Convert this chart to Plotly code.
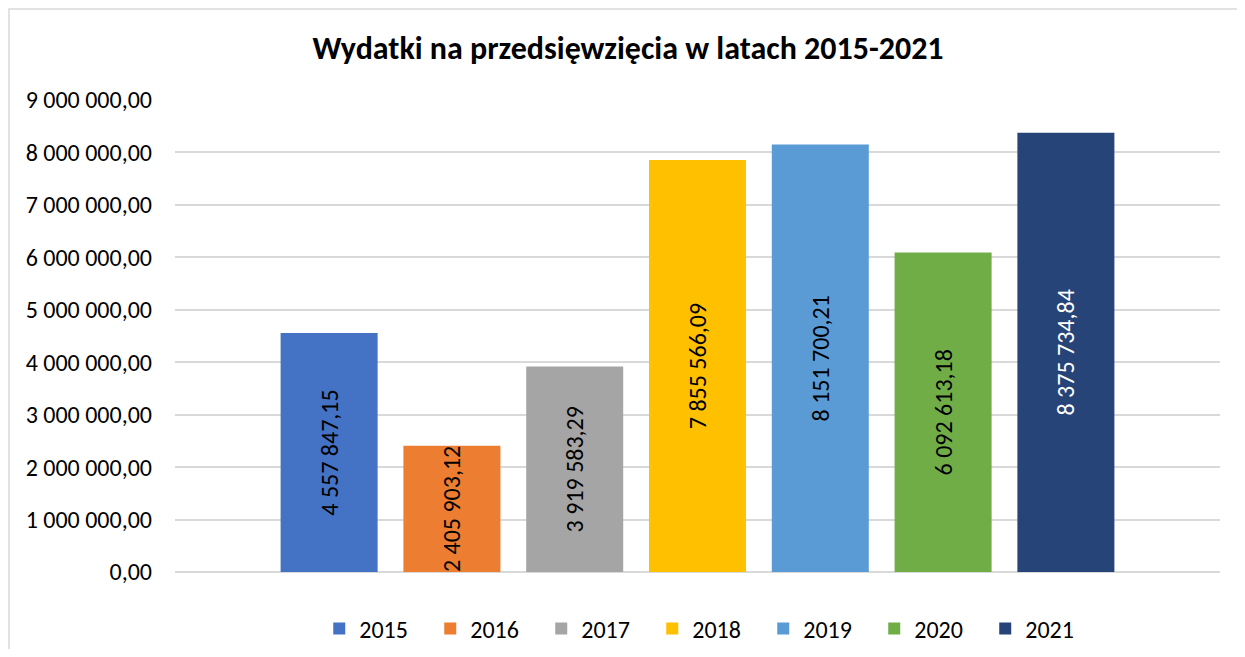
import plotly.graph_objects as go

years = ["2015", "2016", "2017", "2018", "2019", "2020", "2021"]
values = [4557847.15, 2405903.12, 3919583.29, 7855566.09, 8151700.21, 6092613.18, 8375734.84]
colors = ["#4472C4", "#ED7D31", "#A5A5A5", "#FFC000", "#5B9BD5", "#70AD47", "#264478"]
label_colors = ["black", "black", "black", "black", "black", "black", "white"]
tick_vals = [0, 1000000, 2000000, 3000000, 4000000, 5000000, 6000000, 7000000, 8000000, 9000000]

FONT = "Carlito, Calibri, Lato, 'Open Sans', sans-serif"

fig = go.Figure()
for yr, v, c, lc in zip(years, values, colors, label_colors):
    fig.add_trace(go.Bar(
        x=[yr], y=[v], name=yr, marker=dict(color=c, line=dict(width=0)),
        texttemplate="%{y:,.2f}", textposition="inside", insidetextanchor="middle",
        textangle=-90, textfont=dict(family=FONT, size=24, color=lc),
        constraintext="none", cliponaxis=False,
    ))

W, H = 1229, 641
fig.update_layout(
    width=W, height=H,
    margin=dict(l=167, r=17, t=92, b=77, autoexpand=False),
    paper_bgcolor="white", plot_bgcolor="white",
    separators=", ",
    barmode="overlay", bargap=0.21,
    uniformtext=dict(minsize=24, mode="show"),
    font=dict(family=FONT, size=24, color="black"),
    title=dict(text="<b>Wydatki na przedsięwzięcia w latach 2015-2021</b>",
               x=620 / W, xanchor="center", y=1 - 40 / H, yanchor="middle",
               font=dict(family=FONT, size=32, color="black")),
    xaxis=dict(type="category", range=[-1.255, 7.255], showticklabels=False,
               showgrid=False, zeroline=False, showline=False, ticks=""),
    yaxis=dict(range=[0, 9000000], tickvals=tick_vals, tickformat=",.2f",
               showgrid=True, gridcolor="#D9D9D9", gridwidth=1.5,
               zeroline=True, zerolinecolor="#D9D9D9", zerolinewidth=1.5,
               showline=False, ticks="", ticklabelstandoff=22,
               tickfont=dict(family=FONT, size=24, color="black")),
    legend=dict(orientation="h", x=0.5098, xanchor="center",
                yref="container", y=1 - 621 / H, yanchor="middle",
                font=dict(family=FONT, size=24, color="black"),
                itemwidth=30, entrywidth=66, traceorder="normal"),
    showlegend=True,
    shapes=[dict(type="rect", xref="paper", yref="paper",
                 x0=(9 - 175) / 1045, x1=1.1, y0=-0.3, y1=(572 - 9) / 472,
                 line=dict(color="#D9D9D9", width=1.5), fillcolor="rgba(0,0,0,0)", layer="below")],
)

fig.write_html("out.html")
